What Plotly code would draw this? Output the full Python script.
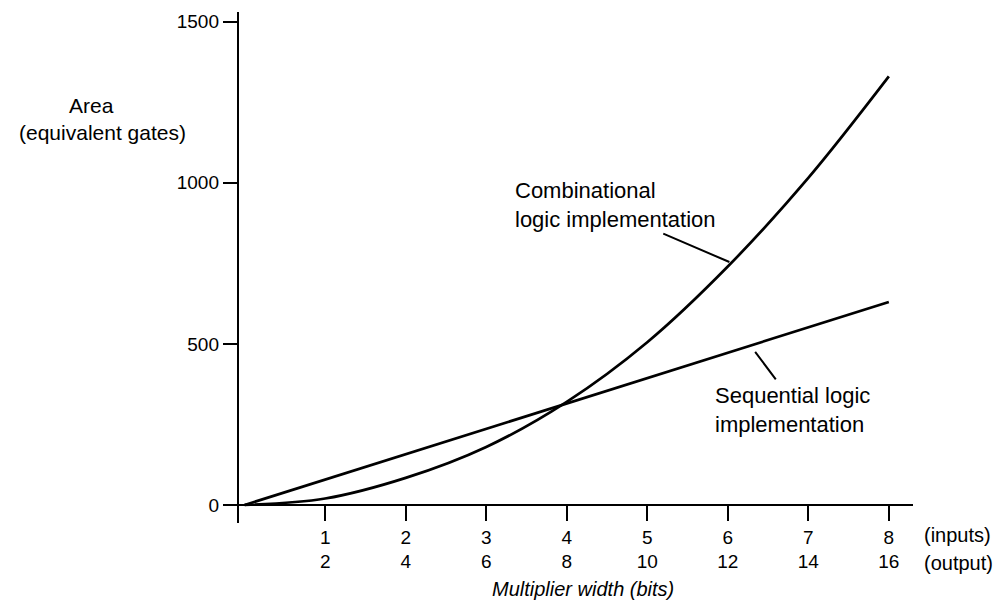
import plotly.graph_objects as go

# multiplier width (input bits) and area
widths = [0, 1, 2, 3, 4, 5, 6, 7, 8]
combinational = [0, 20, 84, 180, 320, 505, 740, 1015, 1330]
sequential = [0, 79, 158, 236, 315, 394, 472, 551, 630]

input_ticks = [1, 2, 3, 4, 5, 6, 7, 8]
output_ticks = [2, 4, 6, 8, 10, 12, 14, 16]
area_ticks = [0, 500, 1000, 1500]

FONT = "Liberation Sans, Arial, Helvetica, sans-serif"
W, H = 1007, 602
OFF = 8  # page body margin
L, R, T, B = 239 - OFF, 94 + OFF, 12 - OFF, 79 + OFF
y_min, y_max = -56, 1530


def px(x):  # screen pixel -> paper x
    return (x - OFF - L) / (W - L - R)


def py(y):  # screen pixel -> paper y
    return (H - B - (y - OFF)) / (H - T - B)


fig = go.Figure()
fig.add_trace(go.Scatter(x=widths, y=combinational, mode="lines",
                         line=dict(color="black", width=2.7, shape="spline", smoothing=1.0)))
fig.add_trace(go.Scatter(x=widths, y=sequential, mode="lines",
                         line=dict(color="black", width=2.7)))

fig.update_layout(
    width=W, height=H,
    margin=dict(l=L, r=R, t=T, b=B, autoexpand=False),
    plot_bgcolor="white", paper_bgcolor="white",
    showlegend=False,
    font=dict(family=FONT, size=22, color="black"),
    xaxis=dict(
        range=[-0.07, 8.3], automargin=False,
        anchor="free", position=(0 - y_min) / (y_max - y_min),
        showgrid=False, zeroline=False, showline=False,
        tickmode="array", tickvals=input_ticks,
        ticktext=[f"{a}<br>{b}" for a, b in zip(input_ticks, output_ticks)],
        ticks="outside", ticklen=15, tickwidth=2, tickcolor="black",
        ticklabelstandoff=0, tickfont=dict(size=19),
    ),
    yaxis=dict(
        range=[y_min, y_max], automargin=False,
        showgrid=False,
        zeroline=True, zerolinecolor="black", zerolinewidth=2.4,
        showline=True, linecolor="black", linewidth=2.4,
        tickmode="array", tickvals=area_ticks,
        ticks="outside", ticklen=14, tickwidth=2, tickcolor="black",
        tickfont=dict(size=19),
    ),
)

# labels outside the plot (paper coordinates)
outside = [
    ("Area", 91, 105, "center", 21),
    ("(equivalent gates)", 102, 132, "center", 21),
    ("<i>Multiplier width (bits)</i>", 583, 589, "center", 20),
    ("(inputs)", 922, 535, "left", 20),
    ("(output)", 922, 563, "left", 20),
]
for text, x, y, xa, size in outside:
    fig.add_annotation(x=px(x), y=py(y), xref="paper", yref="paper", showarrow=False,
                       text=text, xanchor=xa, yanchor="middle", font=dict(size=size))

fig.add_annotation(x=3.33, y=931, xref="x", yref="y", showarrow=False,
                   text="Combinational<br>logic implementation", xanchor="left", align="left")
fig.add_annotation(x=5.82, y=295, xref="x", yref="y", showarrow=False,
                   text="Sequential logic<br>implementation", xanchor="left", align="left")

# leader lines
fig.add_annotation(x=6.02, y=754, ax=5.18, ay=844, xref="x", yref="y", axref="x", ayref="y",
                   text="", showarrow=True, arrowhead=0, arrowwidth=2, arrowcolor="black")
fig.add_annotation(x=6.34, y=475, ax=6.61, ay=385, xref="x", yref="y", axref="x", ayref="y",
                   text="", showarrow=True, arrowhead=0, arrowwidth=2, arrowcolor="black")

fig.write_html("out.html")
